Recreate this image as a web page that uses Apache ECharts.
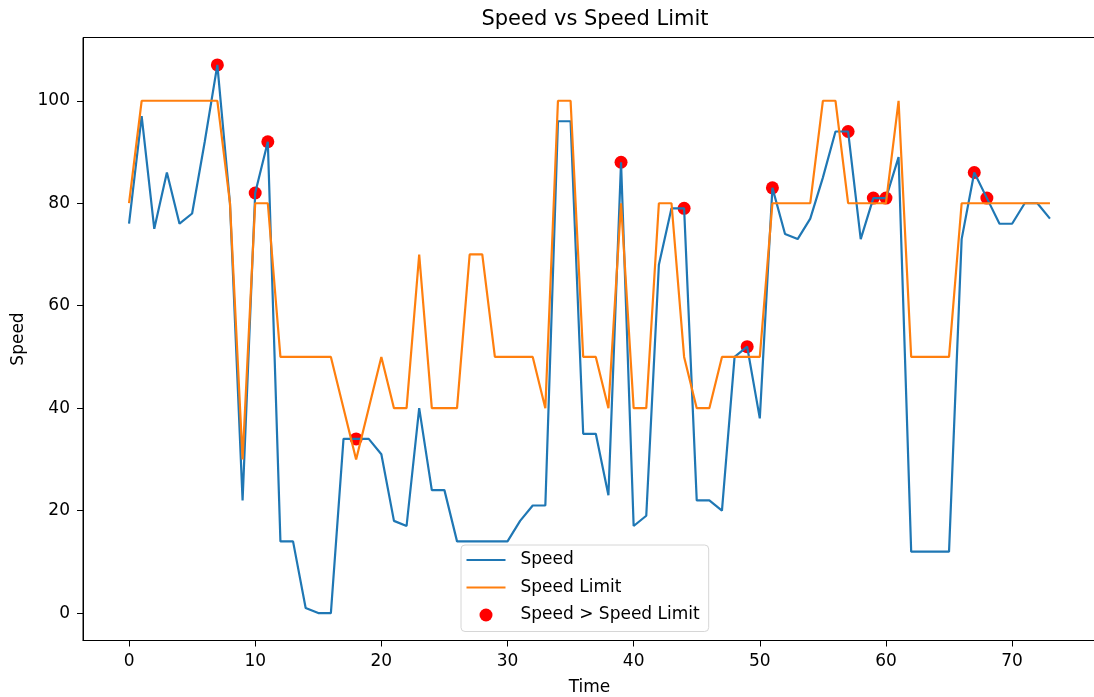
<!DOCTYPE html>
<html>
<head>
<meta charset="utf-8">
<script src="https://cdn.jsdelivr.net/npm/echarts@6/dist/echarts.min.js"></script>
<style>
html,body{margin:0;padding:0;background:#fff;}
#chart{width:1094px;height:697px;}
</style>
</head>
<body>
<div id="chart"></div>
<script>
const time = [0,1,2,3,4,5,6,7,8,9,10,11,12,13,14,15,16,17,18,19,20,21,22,23,24,25,26,27,28,29,30,31,32,33,34,35,36,37,38,39,40,41,42,43,44,45,46,47,48,49,50,51,52,53,54,55,56,57,58,59,60,61,62,63,64,65,66,67,68,69,70,71,72,73];
const speed = [76,97,75,86,76,78,92,107,80,22,82,92,14,14,1,0,0,34,34,34,31,18,17,40,24,24,14,14,14,14,14,18,21,21,96,96,35,35,23,88,17,19,68,79,79,22,22,20,50,52,38,83,74,73,77,85,94,94,73,81,81,89,12,12,12,12,73,86,81,76,76,80,80,77];
const speedLimit = [80,100,100,100,100,100,100,100,80,30,80,80,50,50,50,50,50,40,30,40,50,40,40,70,40,40,40,70,70,50,50,50,50,40,100,100,50,50,40,80,40,40,80,80,50,40,40,50,50,50,50,80,80,80,80,100,100,80,80,80,80,100,50,50,50,50,80,80,80,80,80,80,80,80];
const xTicks = [0,10,20,30,40,50,60,70];
const yTicks = [0,20,40,60,80,100];

const speedData = time.map((t,i)=>[t, speed[i]]);
const limitData = time.map((t,i)=>[t, speedLimit[i]]);
const overData = time.filter((t,i)=>speed[i] > speedLimit[i]).map(t=>[t, speed[time.indexOf(t)]]);

const FONT = 'DejaVu Sans';
const LINE_ICON = 'path://M0,0 L39,0 L39,2.2 L0,2.2 Z';
const chart = echarts.init(document.getElementById('chart'), null, {renderer:'canvas'});
chart.setOption({
  animation: false,
  backgroundColor: '#fff',
  title: {
    text: 'Speed vs Speed Limit',
    left: 590, top: 4, textAlign: 'center',
    textStyle: {fontFamily: FONT, fontSize: 21, fontWeight: 'normal', color: '#000'}
  },
  grid: {
    left: 83, top: 37.5, width: 1013, height: 603,
    outerBoundsMode: 'none', containLabel: false,
    show: true, borderColor: '#000', borderWidth: 1, backgroundColor: 'transparent'
  },
  legend: {
    orient: 'vertical',
    left: 461, top: 545,
    itemWidth: 39, itemHeight: 13, itemGap: 10.5,
    padding: [6.5, 9, 8, 5.5],
    borderColor: '#d6d6d6', borderWidth: 1, borderRadius: 4,
    backgroundColor: 'rgba(255,255,255,0.8)',
    textStyle: {fontFamily: FONT, fontSize: 17, color: '#000', lineHeight: 17, padding: [0,0,0,10]},
    data: [
      {name:'Speed', icon: LINE_ICON},
      {name:'Speed Limit', icon: LINE_ICON},
      {name:'Speed > Speed Limit', icon:'circle'}
    ]
  },
  xAxis: {
    type: 'value', min: -3.65, max: 76.65,
    name: 'Time', nameLocation: 'middle', nameGap: 39,
    nameTextStyle: {fontFamily: FONT, fontSize: 17, color: '#000'},
    axisLine: {show: true, onZero: false, lineStyle: {color: '#000', width: 1}},
    axisTick: {show: true, length: 6, lineStyle: {color: '#000'}, customValues: xTicks},
    axisLabel: {fontFamily: FONT, fontSize: 17, color: '#000', margin: 13, customValues: xTicks},
    splitLine: {show: false}
  },
  yAxis: {
    type: 'value', min: -5.35, max: 112.35,
    name: 'Speed', nameLocation: 'middle', nameGap: 55,
    nameTextStyle: {fontFamily: FONT, fontSize: 17, color: '#000'},
    axisLine: {show: true, onZero: false, lineStyle: {color: '#000', width: 1}},
    axisTick: {show: true, length: 6, lineStyle: {color: '#000'}, customValues: yTicks},
    axisLabel: {fontFamily: FONT, fontSize: 17, color: '#000', margin: 13, customValues: yTicks},
    splitLine: {show: false}
  },
  series: [
    {
      name: 'Speed > Speed Limit', type: 'scatter', data: overData,
      symbol: 'circle', symbolSize: 13, z: 1,
      itemStyle: {color: '#ff0000', opacity: 1}
    },
    {
      name: 'Speed', type: 'line', data: speedData, symbol: 'none', showSymbol: false, z: 2,
      lineStyle: {color: '#1f77b4', width: 2.2}, itemStyle: {color: '#1f77b4'}
    },
    {
      name: 'Speed Limit', type: 'line', data: limitData, symbol: 'none', showSymbol: false, z: 3,
      lineStyle: {color: '#ff7f0e', width: 2.2}, itemStyle: {color: '#ff7f0e'}
    }
  ]
});
</script>
</body>
</html>
